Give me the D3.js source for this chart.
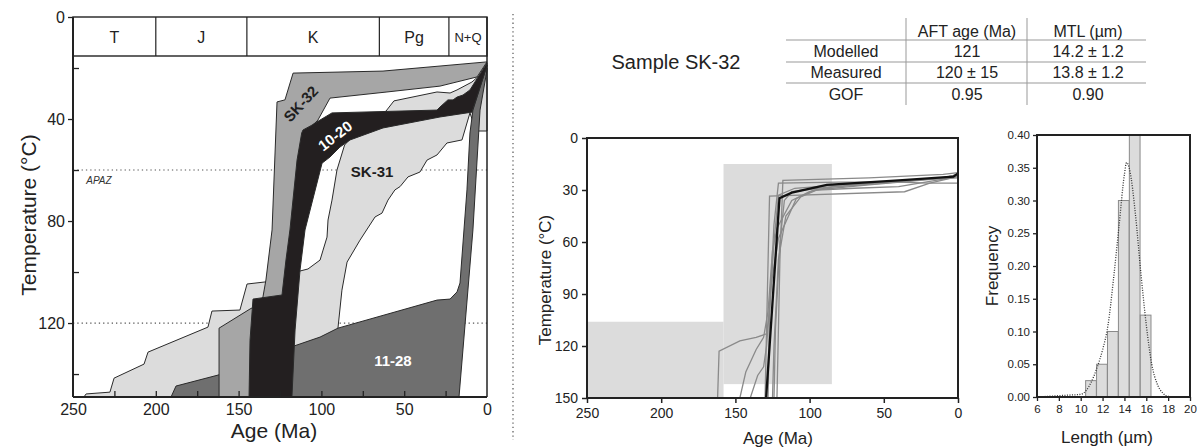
<!DOCTYPE html>
<html><head><meta charset="utf-8">
<script src="https://cdn.jsdelivr.net/npm/d3@7"></script>
<style>
body{margin:0;background:#fff}
svg{display:block}
text{font-family:"Liberation Sans",Arial,Helvetica,sans-serif;fill:#222}
</style></head>
<body><svg id="c" width="1197" height="448"></svg>
<script>
// ---------------- DATA ----------------
// Left panel: geological periods
const periods = ["T","J","K","Pg","N+Q"];
const periodBounds = [250,200,145,65,23,0];
const leftTempMajor = [0,40,80,120];
const leftTempMinor = [20,60,100,140];
const leftAgeLabels = [250,200,150,100,50,0];
const leftAgeMinor = [225,200,175,150,125,100,75,50,25];
const apazTemps = [60,120];

// envelopes [age Ma, temperature °C]
const sk31 = [[243.4,149],[242.1,147.8],[227.7,147.1],[225.2,141.6],[207.1,136.1],[204.7,131.4],[168.5,121.6],[166.1,115.3],[149.2,114.9],[144.9,104.7],[134.1,103.9],[119,101.6],[112.9,99.6],[108.1,98.8],[100.8,95.3],[99,91.4],[96.6,86.3],[96,79.6],[93.6,71.8],[90.6,60],[86,50.2],[76.7,43.5],[61,36.9],[56.2,32.9],[30.2,29.4],[22.3,29.8],[18.1,28.6],[9.1,25.5],[4.2,22.7],[0,20],[0,44.7],[6.6,44.7],[10.3,37.6],[15.1,48.2],[24.2,49.4],[30.2,54.1],[36.2,56.1],[40.5,60.8],[47.7,62.7],[52.5,66.5],[55.6,67.8],[59.8,71.8],[63.4,76.9],[67.6,78.4],[76.7,87.5],[84.5,96.1],[87.6,107.1],[90,122],[90,149]];
const env1128 = [[190.8,149],[187.8,144.7],[162.4,140.4],[116.5,129],[100.8,125.5],[90,122],[30.2,111],[22.3,110.6],[18.1,107.8],[16.3,104.3],[12.1,67.8],[10.3,45.5],[8.5,36.5],[0,18.8],[0,20.8],[4.2,36.5],[8.5,83.5],[16.9,149]];
const sk32 = [[161.8,149],[161.8,122],[143.1,114.5],[138.3,112.9],[135.3,109.8],[133.5,103.1],[129.8,83.5],[126.8,33.3],[122,32.5],[117.1,22],[62.8,21.2],[0,17.6],[6,23.5],[28.4,27.1],[60.4,29.4],[94.8,31.8],[102.1,40.4],[108.1,44.3],[115.3,83.5],[120.8,109],[131,149]];
const env1020 = [[143.7,149],[143.1,126.7],[141.3,110.6],[123.8,109],[121.4,95.3],[119,83.5],[114.7,56.1],[111.9,45.5],[111.1,44.3],[105.7,42.4],[103.9,41.6],[93.6,37.6],[30.2,36.5],[28.4,35.3],[23.6,32.5],[20.5,32.5],[18.1,31.4],[14.5,30.6],[10.3,28.6],[0,18],[0,19.2],[9.1,37.3],[28.4,39.2],[62.8,43.5],[82.7,48.2],[88.8,51],[94.8,54.9],[99.6,57.3],[109.9,83.5],[112.9,99.2],[115.9,122.7],[117.8,149]];
const envLabels = [
  {text:"SK-32", age:112.5, temp:34, rot:-47, color:"#1e1e1e"},
  {text:"10-20", age:91.8, temp:46.5, rot:-38, color:"#ffffff"},
  {text:"SK-31", age:69.4, temp:60.5, rot:0, color:"#1e1e1e"},
  {text:"11-28", age:56.8, temp:134.5, rot:0, color:"#ffffff"}
];

// Table
const tableHeader = ["AFT age (Ma)","MTL (µm)"];
const tableRows = ["Modelled","Measured","GOF"];
const aftValues = ["121","120 ± 15","0.95"];
const mtlValues = ["14.2 ± 1.2","13.8 ± 1.2","0.90"];

// Middle panel: t-T model
const midTempTicks = [0,30,60,90,120,150];
const midAgeTicks = [250,200,150,100,50,0];
const constraintBoxes = [
  {age0:250, age1:158, t0:106, t1:150},
  {age0:158, age1:85, t0:15, t1:142}
];
const bestPath = [[129.3,150],[120.3,34.8],[112,31.5],[88.4,27.1],[40,24.5],[3.1,22.3],[0,20.4]];
const greyPaths = [
  [[162,150],[161,123],[147,117],[136,115],[129,113],[127,100],[124,60],[121,33],[110,29],[80,27],[40,25],[10,23],[0,21]],
  [[130,150],[129,110],[127,33.5],[36,31],[19,26],[1,22.5],[0,22]],
  [[122,150],[120,70],[118,24.5],[60,23],[10,21],[0,20]],
  [[147,150],[143,135],[136,122],[131,115],[128,100],[125,65],[122,52],[112,36],[100,31],[85,28],[40,25],[0,22]],
  [[140,150],[135,137],[131,132],[129,120],[126,85],[121,58],[109,35],[97,30],[60,27],[20,24],[0,23]],
  [[124,150],[123,110],[120,60],[117,36],[112,31],[95,29],[50,26],[10,23],[0,21]],
  [[125,150],[124,120],[121,70],[116,45],[106,34],[95,30],[70,29],[40,28],[5,23],[0,22]],
  [[128,150],[127,100],[124,50],[121,26],[80,25.5],[40,25.5],[20,26],[0,26]]
];

// Right panel: track length histogram
const binStarts = [10.45,11.45,12.45,13.45,14.45,15.45];
const binFreq = [0.025,0.05,0.10,0.30,0.40,0.125];
const binWidth = 0.98;
const pdfCurve = [[6,0],[7,0.001],[8,0.002],[9,0.003],[10,0.004],[10.5,0.01],[11,0.024],[11.5,0.045],[12,0.072],[12.5,0.11],[13,0.18],[13.5,0.26],[14,0.34],[14.2,0.358],[14.5,0.345],[15,0.28],[15.5,0.19],[16,0.11],[16.5,0.05],[17,0.02],[17.5,0.006],[18,0.001],[19,0],[20,0]];
const freqTicks = [0,0.05,0.10,0.15,0.20,0.25,0.30,0.35,0.40];
const lengthTicks = [6,8,10,12,14,16,18,20];

// ---------------- DRAW ----------------
const svg = d3.select("#c");
const FONT = '"Liberation Sans",Arial,sans-serif';

// ===== Left panel =====
const xL = d3.scaleLinear().domain([250,0]).range([73,487]);
const yL = d3.scaleLinear().domain([0,149]).range([17,397]);
const gL = svg.append("g");

gL.selectAll("line.apaz").data(apazTemps).join("line")
  .attr("x1", xL(250)).attr("x2", xL(0))
  .attr("y1", d=>yL(d)).attr("y2", d=>yL(d))
  .attr("stroke","#555").attr("stroke-width",1.2).attr("stroke-dasharray","1.3,3");

const lineL = d3.line().x(d=>xL(d[0])).y(d=>yL(d[1]));
const envs = [
  {pts:sk31, fill:"#dcdcdc"},
  {pts:env1128, fill:"#6f6f6f"},
  {pts:sk32, fill:"#a6a6a6"},
  {pts:env1020, fill:"#231f20"}
];
gL.selectAll("path.env").data(envs).join("path")
  .attr("d", d=>lineL(d.pts)+"Z")
  .attr("fill", d=>d.fill).attr("stroke","#2a2a2a").attr("stroke-width",1).attr("stroke-linejoin","round");

gL.selectAll("text.envlab").data(envLabels).join("text")
  .attr("transform", d=>`translate(${xL(d.age)},${yL(d.temp)}) rotate(${d.rot})`)
  .attr("text-anchor","middle").attr("dominant-baseline","central")
  .style("font-size","15px").style("font-weight","bold").style("fill", d=>d.color)
  .text(d=>d.text);

gL.append("text").attr("x", xL(242)).attr("y", yL(65.3))
  .style("font-size","10px").style("font-style","italic").style("fill","#333").text("APAZ");

// header band
const hTop = yL(0), hBot = yL(0)+39;
gL.append("rect").attr("x", xL(250)).attr("y", hTop).attr("width", xL(0)-xL(250)).attr("height", hBot-hTop)
  .attr("fill","#fff").attr("stroke","#222").attr("stroke-width",1.4);
gL.selectAll("line.pdiv").data(periodBounds.slice(1,-1)).join("line")
  .attr("x1", d=>xL(d)).attr("x2", d=>xL(d)).attr("y1", hTop).attr("y2", hBot)
  .attr("stroke","#222").attr("stroke-width",1.2);
gL.selectAll("text.per").data(periods).join("text")
  .attr("x", (d,i)=>(xL(periodBounds[i])+xL(periodBounds[i+1]))/2)
  .attr("y", (hTop+hBot)/2+1).attr("text-anchor","middle").attr("dominant-baseline","central")
  .style("font-size", d=>d==="N+Q"?"13px":"16px").text(d=>d);

// frame
gL.append("line").attr("x1",xL(0)).attr("x2",xL(0)).attr("y1",yL(0)).attr("y2",yL(149)).attr("stroke","#222").attr("stroke-width",1.5);
gL.append("line").attr("x1",xL(250)).attr("x2",xL(250)).attr("y1",yL(0)).attr("y2",yL(149)).attr("stroke","#222").attr("stroke-width",2);
gL.append("line").attr("x1",xL(250)).attr("x2",xL(0)).attr("y1",yL(149)).attr("y2",yL(149)).attr("stroke","#222").attr("stroke-width",2);

// axes
const axYL = gL.append("g").attr("transform",`translate(${xL(250)},0)`)
  .call(d3.axisLeft(yL).tickValues(leftTempMajor).tickSize(5).tickPadding(3));
const axYLm = gL.append("g").attr("transform",`translate(${xL(250)},0)`)
  .call(d3.axisRight(yL).tickValues(leftTempMinor).tickSize(6).tickFormat(""));
const axXLm = gL.append("g").attr("transform",`translate(0,${yL(149)})`)
  .call(d3.axisTop(xL).tickValues(leftAgeMinor).tickSize(6).tickFormat(""));
const axXL = gL.append("g").attr("transform",`translate(0,${yL(149)})`)
  .call(d3.axisBottom(xL).tickValues(leftAgeLabels).tickSize(0).tickPadding(7));
[axYL,axYLm,axXLm,axXL].forEach(a=>{
  a.select(".domain").remove();
  a.selectAll("line").attr("stroke","#222").attr("stroke-width",1.3);
  a.selectAll("text").style("font-size","16px").style("font-family",FONT).attr("fill","#222");
});
gL.append("text").attr("transform",`translate(28,${(yL(0)+yL(149))/2+8}) rotate(-90)`)
  .attr("text-anchor","middle").attr("dominant-baseline","central").style("font-size","21px").text("Temperature (°C)");
gL.append("text").attr("x", 274).attr("y", 438).attr("text-anchor","middle").style("font-size","21px").text("Age (Ma)");

// separator
svg.append("line").attr("x1",513).attr("x2",513).attr("y1",14).attr("y2",440)
  .attr("stroke","#555").attr("stroke-width",1.2).attr("stroke-dasharray","1.3,3");

// ===== Table =====
const gT = svg.append("g");
gT.append("text").attr("x",676).attr("y",62).attr("text-anchor","middle").attr("dominant-baseline","central")
  .style("font-size","20px").text("Sample SK-32");
const colX = [846, 967, 1088];
const rowY = [31, 51.5, 72.5, 94];
const hLineY = [40, 62, 83];
gT.selectAll("line.h").data(hLineY).join("line")
  .attr("x1",786).attr("x2",1146).attr("y1",d=>d).attr("y2",d=>d).attr("stroke","#999").attr("stroke-width",1);
gT.selectAll("line.v").data([906,1027]).join("line")
  .attr("x1",d=>d).attr("x2",d=>d).attr("y1",18).attr("y2",105).attr("stroke","#999").attr("stroke-width",1);
gT.selectAll("text.hd").data(tableHeader).join("text")
  .attr("x",(d,i)=>colX[i+1]).attr("y",rowY[0]).attr("text-anchor","middle").attr("dominant-baseline","central")
  .style("font-size","16px").text(d=>d);
tableRows.forEach((r,i)=>{
  [r, aftValues[i], mtlValues[i]].forEach((t,j)=>{
    gT.append("text").attr("x",colX[j]).attr("y",rowY[i+1]).attr("text-anchor","middle").attr("dominant-baseline","central")
      .style("font-size","16px").text(t);
  });
});

// ===== Middle panel =====
const xM = d3.scaleLinear().domain([250,0]).range([587,958]);
const yM = d3.scaleLinear().domain([0,150]).range([138,398]);
const gM = svg.append("g");
gM.append("clipPath").attr("id","clipM").append("rect")
  .attr("x",xM(250)).attr("y",yM(0)).attr("width",xM(0)-xM(250)).attr("height",yM(150)-yM(0));
gM.selectAll("rect.box").data(constraintBoxes).join("rect")
  .attr("x",d=>xM(d.age0)).attr("y",d=>yM(d.t0))
  .attr("width",d=>xM(d.age1)-xM(d.age0)).attr("height",d=>yM(d.t1)-yM(d.t0))
  .attr("fill","#dcdcdc");
const lineM = d3.line().x(d=>xM(d[0])).y(d=>yM(d[1]));
const gLines = gM.append("g").attr("clip-path","url(#clipM)");
gLines.selectAll("path.gp").data(greyPaths).join("path")
  .attr("d",lineM).attr("fill","none").attr("stroke","#8a8a8a").attr("stroke-width",1.3);
gLines.append("path").attr("d",lineM(bestPath)).attr("fill","none").attr("stroke","#111").attr("stroke-width",2.3);
gM.append("rect").attr("x",xM(250)).attr("y",yM(0)).attr("width",xM(0)-xM(250)).attr("height",yM(150)-yM(0))
  .attr("fill","none").attr("stroke","#222").attr("stroke-width",2);
const axYM = gM.append("g").attr("transform",`translate(${xM(250)},0)`)
  .call(d3.axisLeft(yM).tickValues(midTempTicks).tickSize(5).tickPadding(4));
const axXM = gM.append("g").attr("transform",`translate(0,${yM(150)})`)
  .call(d3.axisBottom(xM).tickValues(midAgeTicks).tickSize(5).tickPadding(5));
[axYM,axXM].forEach(a=>{
  a.select(".domain").remove();
  a.selectAll("line").attr("stroke","#222").attr("stroke-width",1.5);
  a.selectAll("text").style("font-size","14px").style("font-family",FONT).attr("fill","#222");
});
gM.append("text").attr("transform",`translate(545,${(yM(0)+yM(150))/2+12}) rotate(-90)`)
  .attr("text-anchor","middle").attr("dominant-baseline","central").style("font-size","17px").text("Temperature (°C)");
gM.append("text").attr("x",778).attr("y",444).attr("text-anchor","middle").style("font-size","17px").text("Age (Ma)");

// ===== Histogram =====
const xH = d3.scaleLinear().domain([6,20]).range([1037,1190]);
const yH = d3.scaleLinear().domain([0,0.40]).range([397,135]);
const gH = svg.append("g");
gH.selectAll("rect.bar").data(binStarts).join("rect")
  .attr("x",d=>xH(d)).attr("width",xH(6+binWidth)-xH(6))
  .attr("y",(d,i)=>yH(binFreq[i])).attr("height",(d,i)=>yH(0)-yH(binFreq[i]))
  .attr("fill","#dcdcdc").attr("stroke","#8a8a8a").attr("stroke-width",1);
gH.append("path").attr("d", d3.line().x(d=>xH(d[0])).y(d=>yH(d[1])).curve(d3.curveMonotoneX)(pdfCurve))
  .attr("fill","none").attr("stroke","#333").attr("stroke-width",1.3).attr("stroke-dasharray","1,1.5");
gH.append("rect").attr("x",xH(6)).attr("y",yH(0.40)).attr("width",xH(20)-xH(6)).attr("height",yH(0)-yH(0.40))
  .attr("fill","none").attr("stroke","#222").attr("stroke-width",2);
const axYH = gH.append("g").attr("transform",`translate(${xH(6)},0)`)
  .call(d3.axisLeft(yH).tickValues(freqTicks).tickSize(4).tickPadding(3).tickFormat(d3.format(".2f")));
const axXH = gH.append("g").attr("transform",`translate(0,${yH(0)})`)
  .call(d3.axisBottom(xH).tickValues(lengthTicks).tickSize(4).tickPadding(4));
[axYH,axXH].forEach(a=>{
  a.select(".domain").remove();
  a.selectAll("line").attr("stroke","#222").attr("stroke-width",1.3);
  a.selectAll("text").style("font-size","11.5px").style("font-family",FONT).attr("fill","#222");
});
gH.append("text").attr("transform",`translate(992,266) rotate(-90)`)
  .attr("text-anchor","middle").attr("dominant-baseline","central").style("font-size","17px").text("Frequency");
gH.append("text").attr("x",1107).attr("y",443).attr("text-anchor","middle").style("font-size","17px").text("Length (µm)");
</script></body></html>
